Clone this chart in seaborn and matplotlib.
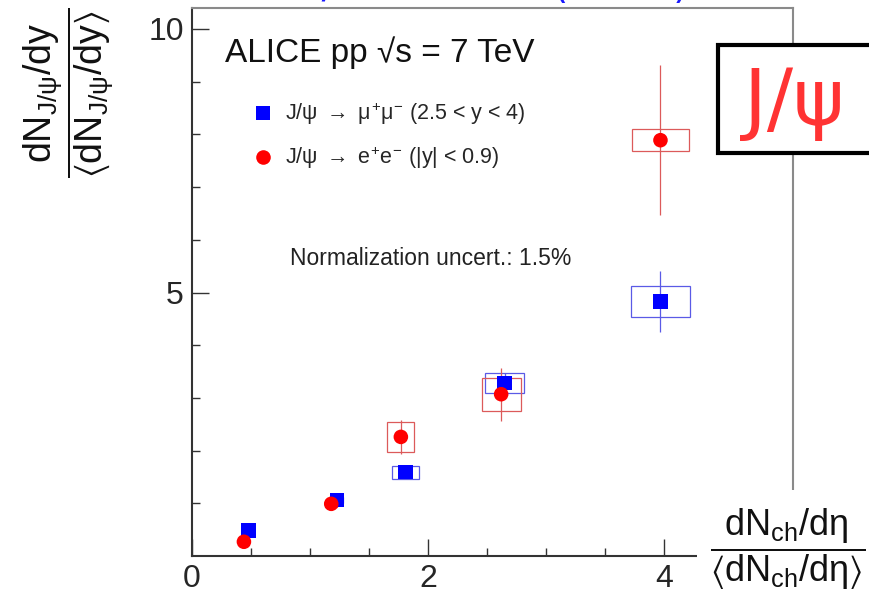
import matplotlib
matplotlib.use("Agg")
import matplotlib.pyplot as plt
from matplotlib.patches import Rectangle
from matplotlib.lines import Line2D
import pandas as pd
import seaborn as sns

# J/psi yield vs. charged-particle multiplicity, both relative to their mean
x_mumu = [0.48, 1.23, 1.81, 2.65, 3.97]
y_mumu = [0.48, 1.06, 1.59, 3.28, 4.83]
stat_mumu = [0.05, 0.06, 0.06, 0.20, 0.58]
sysx_mumu = [0.04, 0.05, 0.115, 0.165, 0.25]
sysy_mumu = [0.04, 0.06, 0.12, 0.19, 0.29]

x_ee = [0.44, 1.18, 1.77, 2.62, 3.97]
y_ee = [0.27, 0.99, 2.26, 3.07, 7.89]
stat_ee = [0.05, 0.08, 0.32, 0.50, 1.42]
sysx_ee = [0.04, 0.05, 0.115, 0.165, 0.24]
sysy_ee = [0.04, 0.06, 0.29, 0.31, 0.21]

lab_mumu = r"J/$\psi\ \rightarrow\ \mu^{+}\mu^{-}$ (2.5 < y < 4)"
lab_ee = r"J/$\psi\ \rightarrow\ e^{+}e^{-}$ ($|$y$|$ < 0.9)"

x_ticks = [0, 2, 4]
y_ticks = [5, 10]

sns.set_style("ticks")
plt.rcParams["font.family"] = ["Liberation Sans", "DejaVu Sans"]
plt.rcParams["mathtext.fontset"] = "custom"
plt.rcParams["mathtext.rm"] = "Liberation Sans"
plt.rcParams["mathtext.it"] = "Liberation Sans"
plt.rcParams["mathtext.bf"] = "Liberation Sans:bold"
plt.rcParams["mathtext.sf"] = "Liberation Sans"
plt.rcParams["mathtext.fallback"] = "stixsans"

df = pd.concat([
    pd.DataFrame({"x": x_mumu, "y": y_mumu, "ch": lab_mumu}),
    pd.DataFrame({"x": x_ee, "y": y_ee, "ch": lab_ee}),
], ignore_index=True)

fig = plt.figure(figsize=(8.7, 5.96), dpi=100)
ax = fig.add_axes([192 / 870, 40 / 596, 601 / 870, 548 / 596])

c_mumu, c_ee = "#0000ff", "#ff0000"
box_mumu, box_ee = "#5a5ae6", "#dc5a5a"

# systematic boxes and statistical bars
for xs, ys, st, sx, sy, cb in [
    (x_mumu, y_mumu, stat_mumu, sysx_mumu, sysy_mumu, box_mumu),
    (x_ee, y_ee, stat_ee, sysx_ee, sysy_ee, box_ee),
]:
    for xi, yi, si, bx, by in zip(xs, ys, st, sx, sy):
        ax.add_patch(Rectangle((xi - bx, yi - by), 2 * bx, 2 * by, fill=False,
                               edgecolor=cb, lw=0.9, zorder=2))
    ax.errorbar(xs, ys, yerr=st, fmt="none", ecolor=cb, elinewidth=0.9,
                capsize=0, zorder=2)

sns.scatterplot(data=df, x="x", y="y", hue="ch", style="ch",
                palette={lab_mumu: c_mumu, lab_ee: c_ee},
                markers={lab_mumu: "s", lab_ee: "o"},
                s=110, linewidth=0, legend=False, ax=ax, zorder=3)

ax.set_xlim(0, 601 / 118)
ax.set_ylim(0, 548 / 52.7)
ax.set_xticks(x_ticks)
ax.set_yticks(y_ticks)
ax.set_xticks([0.5, 1, 1.5, 2.5, 3, 3.5, 4.5, 5], minor=True)
ax.set_yticks([1, 2, 3, 4, 6, 7, 8, 9], minor=True)
ax.tick_params(which="both", direction="in", width=1.0, color="#333333",
               labelsize=23, top=False, right=False)
ax.tick_params(which="major", length=12, pad=6)
ax.tick_params(which="minor", length=6)
ax.set_xlabel("")
ax.set_ylabel("")
for side in ["left", "bottom"]:
    ax.spines[side].set_color("#333333")
    ax.spines[side].set_linewidth(1.5)
for side in ["top", "right"]:
    ax.spines[side].set_color("#8a8a8a")
    ax.spines[side].set_linewidth(1.5)

ax.text((225 - 192) / 601, (556 - 62) / 548, "ALICE pp √s = 7 TeV",
        transform=ax.transAxes, fontsize=24, color="#111111", va="baseline")

handles = [
    Line2D([], [], ls="none", marker="s", color=c_mumu, markersize=9.5, mew=0),
    Line2D([], [], ls="none", marker="o", color=c_ee, markersize=10.5, mew=0),
]
ax.legend(handles, [lab_mumu, lab_ee], loc="center left",
          bbox_to_anchor=((253 - 192) / 601, (556 - 136) / 548),
          frameon=False, fontsize=15.5, handlelength=0.9, handletextpad=0.6,
          labelspacing=0.8, borderpad=0, borderaxespad=0)

ax.text((290 - 192) / 601, (556 - 265) / 548, "Normalization uncert.: 1.5%",
        transform=ax.transAxes, fontsize=16.5, color="#222222", va="baseline")

# axis titles
fig.text(69 / 870, 1 - 93 / 596,
         r"$\dfrac{\mathrm{dN}_{\mathrm{J/\psi}}/\mathrm{dy}}"
         r"{\langle\mathrm{dN}_{\mathrm{J/\psi}}/\mathrm{dy}\rangle}$",
         rotation=90, ha="center", va="center", fontsize=27, color="#111111")

fig.add_artist(Rectangle((697 / 870, 0), 1, 106 / 596, transform=fig.transFigure,
                         facecolor="white", edgecolor="none", zorder=2))
fig.text(788 / 870, 1 - 549 / 596,
         r"$\dfrac{\mathrm{dN}_{\mathrm{ch}}/\mathrm{d\eta}}"
         r"{\langle\mathrm{dN}_{\mathrm{ch}}/\mathrm{d\eta}\rangle}$",
         ha="center", va="center", fontsize=26, color="#111111", zorder=3)

# particle tag
fig.add_artist(Rectangle((718 / 870, 1 - 153 / 596), 0.3, 108 / 596,
                         transform=fig.transFigure, facecolor="white",
                         edgecolor="black", lw=3, zorder=2))
fig.text(794 / 870, 1 - 125 / 596, "J/ψ", family="DejaVu Sans", fontsize=56,
         color="#ff3333", ha="center", va="baseline", zorder=3)

# heading running off the top edge
fig.text(216 / 870, 1 + 2 / 596, "Hard / Soft Scale (7 TeV)",
         family="DejaVu Sans", fontsize=28, color="#1a1aff", va="baseline")

fig.savefig("out.png", dpi=100)
